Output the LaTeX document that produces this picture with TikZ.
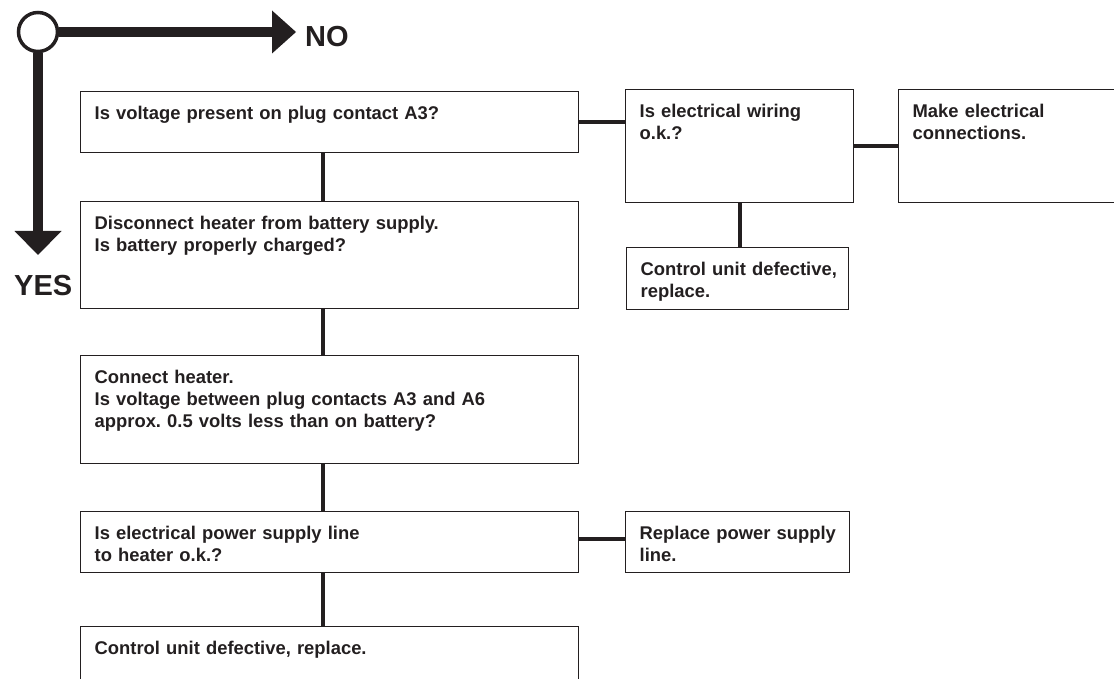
\documentclass[tikz,border=0pt]{standalone}
\usepackage{fontspec}
\setmainfont{Liberation Sans}
\usepackage{xcolor}
\definecolor{ink}{HTML}{231F20}
\frenchspacing

\begin{document}
\begin{tikzpicture}[x=1pt, y=-1pt,
    box/.style={draw=ink, line width=1.3pt, anchor=north west, inner xsep=14pt, inner ysep=0pt,
      align=left, text=ink, text height=28pt, font=\fontsize{18.4}{22}\selectfont\bfseries},
    link/.style={draw=ink, line width=4pt},
    legend/.style={draw=ink, line width=9.5pt},
    answer/.style={anchor=base west, inner sep=0pt, text=ink, font=\fontsize{29}{32}\selectfont\bfseries}]
    \useasboundingbox (0,0) rectangle (1114,679);

    % Legend: yes / no arrows
    \node[circle, draw=ink, line width=3.5pt, minimum size=39pt, inner sep=0pt] (start) at (38,32) {};
    \coordinate (notip) at (296,32);
    \coordinate (yestip) at (38,255);
    \draw[legend] (start.east) -- ([xshift=-23pt]notip);
    \fill[ink] (notip) -- ++(-24,-21.5) -- ++(0,43) -- cycle;
    \draw[legend] (start.south) -- ([yshift=23pt]yestip);
    \fill[ink] (yestip) -- ++(-23.5,-24) -- ++(47,0) -- cycle;
    \node[answer] (no) at (305,47) {NO};
    \node[answer] (yes) at (14,295) {YES};

    % Main column
    \node[box, text width=470pt, text depth=33pt] (b1) at (80,91) {Is voltage present on plug contact A3?};
    \node[box, text width=470pt, text depth=79pt] (b2) at (80,201) {Disconnect heater from battery supply.\\Is battery properly charged?};
    \node[box, text width=470pt, text depth=80pt] (b3) at (80,355) {Connect heater.\\Is voltage between plug contacts A3 and A6\\approx. 0.5 volts less than on battery?};
    \node[box, text width=470pt, text depth=33pt] (b4) at (80,511) {Is electrical power supply line\\to heater o.k.?};
    \node[box, text width=470pt, text depth=46pt] (b5) at (80,626) {Control unit defective, replace.};

    % Side branches
    \node[box, text width=200pt, text depth=85pt] (r1) at (625,89) {Is electrical wiring\\o.k.?};
    \node[box, text width=204pt, text depth=85pt] (r2) at (898,89) {Make electrical\\connections.};
    \node[box, text width=194pt, text depth=34pt] (r3) at (626,247) {\mbox{Control unit defective,}\\replace.};
    \node[box, text width=196pt, text depth=33pt] (r4) at (625,511) {\mbox{Replace power supply}\\line.};

    % Connectors
    \draw[link] ([xshift=-7pt]b1.south) -- ([xshift=-7pt]b2.north);
    \draw[link] ([xshift=-7pt]b2.south) -- ([xshift=-7pt]b3.north);
    \draw[link] ([xshift=-7pt]b3.south) -- ([xshift=-7pt]b4.north);
    \draw[link] ([xshift=-7pt]b4.south) -- ([xshift=-7pt]b5.north);
    \draw[link] (b1.east) -- (b1.east -| r1.west);
    \draw[link] (r1.east) -- (r1.east -| r2.west);
    \draw[link] (r1.south) -- (r1.south |- r3.north);
    \draw[link] ([yshift=3pt]b4.east) -- ([yshift=3pt]b4.east -| r4.west);
\end{tikzpicture}
\end{document}
